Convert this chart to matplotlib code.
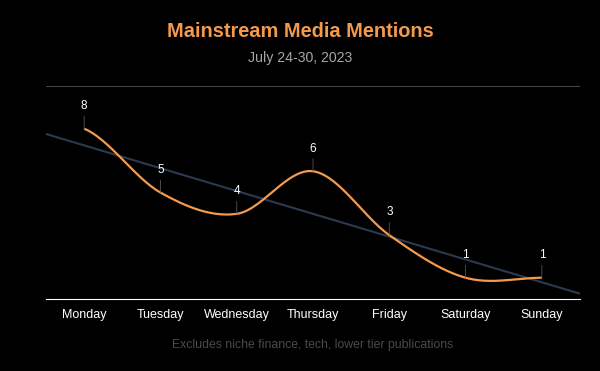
import matplotlib
matplotlib.use("Agg")
import matplotlib.pyplot as plt
import numpy as np

days = ["Monday", "Tuesday", "Wednesday", "Thursday", "Friday", "Saturday", "Sunday"]
mentions = [8, 5, 4, 6, 3, 1, 1]

ORANGE = "#f39a4c"
TREND = "#2b3a50"

plt.rcParams["font.family"] = ["Liberation Sans", "DejaVu Sans"]


def catmull_rom(xs, ys, steps=30):
    # smooth curve through the points, like a chart "spline" series
    px = np.concatenate([[2 * xs[0] - xs[1]], xs, [2 * xs[-1] - xs[-2]]])
    py = np.concatenate([[ys[0]], ys, [ys[-1]]])
    out_x, out_y = [], []
    for i in range(1, len(px) - 2):
        t = np.linspace(0, 1, steps)
        for arr, out in ((px, out_x), (py, out_y)):
            p0, p1, p2, p3 = arr[i - 1], arr[i], arr[i + 1], arr[i + 2]
            out.extend(0.5 * (2 * p1 + (-p0 + p2) * t
                              + (2 * p0 - 5 * p1 + 4 * p2 - p3) * t ** 2
                              + (-p0 + 3 * p1 - 3 * p2 + p3) * t ** 3))
    return np.array(out_x), np.array(out_y)


x = np.arange(len(days))
y = np.array(mentions, dtype=float)

fig = plt.figure(figsize=(6, 3.71), dpi=100, facecolor="black")
ax = fig.add_axes([0.0767, 0.194, 0.89, 0.574], facecolor="black")

# trend line
slope, icpt = np.polyfit(x, y, 1)
tx = np.array([-0.5, 6.5])
ax.plot(tx, slope * tx + icpt, color=TREND, lw=1.5, zorder=2)

sx, sy = catmull_rom(x, y)
ax.plot(sx, sy, color=ORANGE, lw=1.6, zorder=3, solid_capstyle="butt")

for xi, yi in zip(x, mentions):
    ax.annotate(str(yi), (xi, yi), xytext=(0, 12), textcoords="offset points",
                ha="center", va="bottom", color="white", fontsize=8.5,
                arrowprops=dict(arrowstyle="-", color="#555555", lw=0.6,
                                shrinkA=1, shrinkB=0), zorder=4)

ax.set_xlim(-0.5, 6.5)
ax.set_ylim(0, 10)
ax.axhline(10, color="#444444", lw=0.8)
for s in ["top", "right", "left"]:
    ax.spines[s].set_visible(False)
ax.spines["bottom"].set_color("white")
ax.spines["bottom"].set_linewidth(0.8)
ax.set_yticks([])
ax.set_xticks(x)
ax.set_xticklabels(days, color="white", fontsize=9)
ax.tick_params(axis="x", length=0, pad=7.5)

fig.text(0.5, 0.916, "Mainstream Media Mentions", ha="center", va="center",
         color=ORANGE, fontsize=14.4, fontweight="bold")
fig.text(0.5, 0.843, "July 24-30, 2023", ha="center", va="center",
         color="#a6a6a6", fontsize=10.2)
# footer is centred on the plot area, not the figure
fig.text(0.0767 + 0.89 / 2, 0.07, "Excludes niche finance, tech, lower tier publications",
         ha="center", va="center", color="#4a4a4a", fontsize=8.8)

fig.savefig("out.png", dpi=100, facecolor="black")
